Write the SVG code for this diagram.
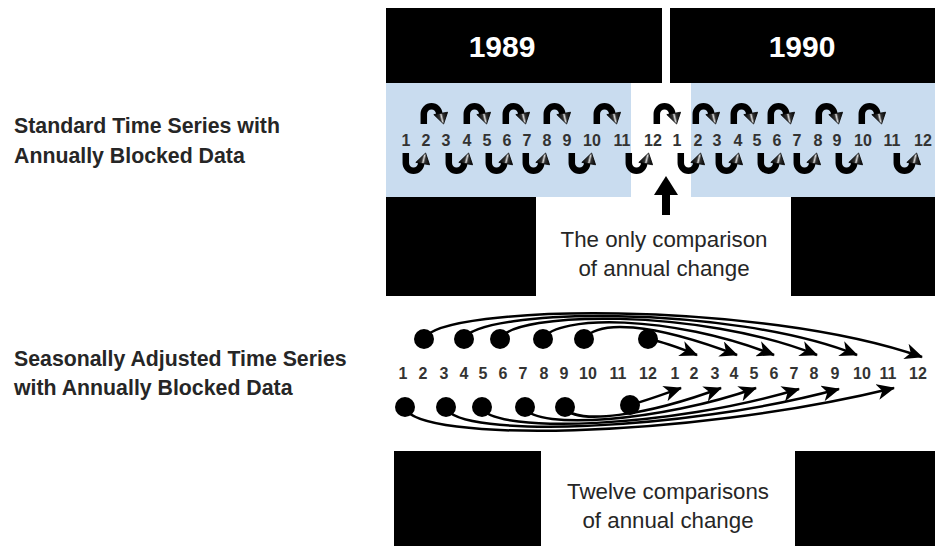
<svg xmlns="http://www.w3.org/2000/svg" xmlns:xlink="http://www.w3.org/1999/xlink" width="935" height="546" viewBox="0 0 935 546">
  <style>
    .lbl { font-family: "Liberation Sans", Arial, sans-serif; font-weight: bold; font-size: 21.3px; fill: #262626; }
    .note { font-family: "Liberation Sans", Arial, sans-serif; font-size: 22.3px; fill: #262626; text-anchor: middle; }
    .year { font-family: "Liberation Sans", Arial, sans-serif; font-weight: bold; font-size: 30px; fill: #ffffff; text-anchor: middle; }
    .num { font-family: "Liberation Sans", Arial, sans-serif; font-weight: bold; font-size: 16px; fill: #333333; text-anchor: middle; }
    .blk { fill: #000000; }
    .band { fill: #c9dcef; }
    .link { fill: none; stroke: #000000; stroke-width: 2.5; marker-end: url(#head); }
    .dot { fill: #000000; }
  </style>
  <defs>
    <marker id="head" markerUnits="userSpaceOnUse" markerWidth="18" markerHeight="16" viewBox="0 0 18 16" refX="17" refY="8" orient="auto">
      <path d="M0,0 L18,8 L0,16 L5,8 z" fill="#000000"/>
    </marker>
    <linearGradient id="shade" x1="0" y1="0.2" x2="1" y2="0">
      <stop offset="0" stop-color="#000000"/>
      <stop offset="0.38" stop-color="#333333"/>
      <stop offset="0.5" stop-color="#d8d8d8"/>
      <stop offset="0.62" stop-color="#333333"/>
      <stop offset="1" stop-color="#000000"/>
    </linearGradient>
    <!-- curved step arrow: up, over and down to the next month -->
    <g id="cv">
      <path d="M3.8,22 L3.8,12 A7.7,7.7 0 0 1 19.2,12 L19.2,13" fill="none" stroke="#000000" stroke-width="6.5"/>
      <polygon points="13.8,12.6 27.6,10.2 23.6,22" fill="url(#shade)" stroke="#000000" stroke-width="0.8" stroke-linejoin="round"/>
    </g>
  </defs>

  <!-- left side titles -->
  <g id="label-standard">
    <text class="lbl" x="14" y="133">Standard Time Series with</text>
    <text class="lbl" x="14" y="163">Annually Blocked Data</text>
  </g>
  <g id="label-seasonal">
    <text class="lbl" x="14" y="366">Seasonally Adjusted Time Series</text>
    <text class="lbl" x="14" y="395">with Annually Blocked Data</text>
  </g>

  <!-- year headers -->
  <g id="year-1989">
    <rect class="blk" x="386" y="8" width="276" height="75"/>
    <text class="year" x="502" y="57">1989</text>
  </g>
  <g id="year-1990">
    <rect class="blk" x="670" y="8" width="265" height="75"/>
    <text class="year" x="802" y="57">1990</text>
  </g>

  <!-- annual blocks of the standard series -->
  <g id="block-standard">
    <rect class="band" x="386" y="83" width="245" height="114"/>
    <rect class="band" x="691" y="83" width="244" height="114"/>
    <rect class="blk" x="386" y="197" width="150" height="99"/>
    <rect class="blk" x="791" y="197" width="144" height="99"/>
  </g>

  <!-- month numbers, standard series -->
  <g id="months-standard">
    <text class="num" x="406" y="146">1</text>
    <text class="num" x="426" y="146">2</text>
    <text class="num" x="446" y="146">3</text>
    <text class="num" x="467" y="146">4</text>
    <text class="num" x="487" y="146">5</text>
    <text class="num" x="507" y="146">6</text>
    <text class="num" x="527" y="146">7</text>
    <text class="num" x="547" y="146">8</text>
    <text class="num" x="567" y="146">9</text>
    <text class="num" x="592" y="146">10</text>
    <text class="num" x="622" y="146">11</text>
    <text class="num" x="653" y="146">12</text>
    <text class="num" x="677" y="146">1</text>
    <text class="num" x="698" y="146">2</text>
    <text class="num" x="717" y="146">3</text>
    <text class="num" x="738" y="146">4</text>
    <text class="num" x="757" y="146">5</text>
    <text class="num" x="777" y="146">6</text>
    <text class="num" x="797" y="146">7</text>
    <text class="num" x="818" y="146">8</text>
    <text class="num" x="837" y="146">9</text>
    <text class="num" x="863" y="146">10</text>
    <text class="num" x="892" y="146">11</text>
    <text class="num" x="923" y="146">12</text>
  </g>

  <!-- month to month steps, standard series -->
  <g id="steps-standard">
    <use xlink:href="#cv" href="#cv" x="420" y="102"/>
    <use xlink:href="#cv" href="#cv" x="463" y="102"/>
    <use xlink:href="#cv" href="#cv" x="502" y="102"/>
    <use xlink:href="#cv" href="#cv" x="543" y="102"/>
    <use xlink:href="#cv" href="#cv" x="593" y="102"/>
    <use xlink:href="#cv" href="#cv" x="653" y="102"/>
    <use xlink:href="#cv" href="#cv" x="692" y="102"/>
    <use xlink:href="#cv" href="#cv" x="730" y="102"/>
    <use xlink:href="#cv" href="#cv" x="767" y="102"/>
    <use xlink:href="#cv" href="#cv" x="815" y="102"/>
    <use xlink:href="#cv" href="#cv" x="858" y="102"/>

    <use xlink:href="#cv" href="#cv" transform="translate(402,175) scale(1,-1)"/>
    <use xlink:href="#cv" href="#cv" transform="translate(445,175) scale(1,-1)"/>
    <use xlink:href="#cv" href="#cv" transform="translate(485,175) scale(1,-1)"/>
    <use xlink:href="#cv" href="#cv" transform="translate(522,175) scale(1,-1)"/>
    <use xlink:href="#cv" href="#cv" transform="translate(568,175) scale(1,-1)"/>
    <use xlink:href="#cv" href="#cv" transform="translate(625,175) scale(1,-1)"/>
    <use xlink:href="#cv" href="#cv" transform="translate(677,175) scale(1,-1)"/>
    <use xlink:href="#cv" href="#cv" transform="translate(715,175) scale(1,-1)"/>
    <use xlink:href="#cv" href="#cv" transform="translate(757,175) scale(1,-1)"/>
    <use xlink:href="#cv" href="#cv" transform="translate(793,175) scale(1,-1)"/>
    <use xlink:href="#cv" href="#cv" transform="translate(835,175) scale(1,-1)"/>
    <use xlink:href="#cv" href="#cv" transform="translate(893,175) scale(1,-1)"/>
  </g>

  <!-- the single year-over-year comparison -->
  <g id="only-comparison">
    <rect class="blk" x="662" y="193" width="8" height="22"/>
    <polygon class="blk" points="654,195 666,176 678,195"/>
    <text class="note" x="664" y="247">The only comparison</text>
    <text class="note" x="664" y="276">of annual change</text>
  </g>

  <!-- month numbers, seasonally adjusted series -->
  <g id="months-seasonal">
    <text class="num" x="403" y="379">1</text>
    <text class="num" x="423" y="379">2</text>
    <text class="num" x="444" y="379">3</text>
    <text class="num" x="464" y="379">4</text>
    <text class="num" x="483" y="379">5</text>
    <text class="num" x="503" y="379">6</text>
    <text class="num" x="523" y="379">7</text>
    <text class="num" x="544" y="379">8</text>
    <text class="num" x="564" y="379">9</text>
    <text class="num" x="588" y="379">10</text>
    <text class="num" x="618" y="379">11</text>
    <text class="num" x="648" y="379">12</text>
    <text class="num" x="675" y="379">1</text>
    <text class="num" x="694" y="379">2</text>
    <text class="num" x="715" y="379">3</text>
    <text class="num" x="734" y="379">4</text>
    <text class="num" x="754" y="379">5</text>
    <text class="num" x="774" y="379">6</text>
    <text class="num" x="794" y="379">7</text>
    <text class="num" x="814" y="379">8</text>
    <text class="num" x="835" y="379">9</text>
    <text class="num" x="862" y="379">10</text>
    <text class="num" x="888" y="379">11</text>
    <text class="num" x="918" y="379">12</text>
  </g>

  <!-- twelve year-over-year links -->
  <g id="connectors">
    <path class="link" d="M424,339 C440,304 760,300 922,357"/>
    <path class="link" d="M464,339 C478,308 730,304 857,355"/>
    <path class="link" d="M500,339 C514,311 700,308 817,355"/>
    <path class="link" d="M543,339 C556,315 670,314 774,355"/>
    <path class="link" d="M584,339 C598,320 650,322 737,355"/>
    <path class="link" d="M648,339 C664,342 680,348 697,355"/>

    <path class="link" d="M405,408 C418,442 680,440 894,388"/>
    <path class="link" d="M446,408 C458,438 680,432 839,389"/>
    <path class="link" d="M482,408 C494,434 670,428 799,389"/>
    <path class="link" d="M525,408 C536,430 660,422 756,388"/>
    <path class="link" d="M565,408 C576,425 646,416 721,388"/>
    <path class="link" d="M630,405 C648,400 664,394 681,388"/>
  </g>
  <g id="origin-dots">
    <circle class="dot" cx="424" cy="339" r="10"/>
    <circle class="dot" cx="464" cy="339" r="10"/>
    <circle class="dot" cx="500" cy="339" r="10"/>
    <circle class="dot" cx="543" cy="339" r="10"/>
    <circle class="dot" cx="584" cy="339" r="10"/>
    <circle class="dot" cx="648" cy="339" r="10"/>
    <circle class="dot" cx="405" cy="407" r="10"/>
    <circle class="dot" cx="446" cy="407" r="10"/>
    <circle class="dot" cx="482" cy="407" r="10"/>
    <circle class="dot" cx="525" cy="407" r="10"/>
    <circle class="dot" cx="565" cy="407" r="10"/>
    <circle class="dot" cx="630" cy="405" r="10"/>
  </g>

  <!-- annual blocks of the seasonally adjusted series -->
  <g id="block-seasonal">
    <rect class="blk" x="394" y="451" width="147" height="95"/>
    <rect class="blk" x="795" y="451" width="140" height="95"/>
    <text class="note" x="668" y="499">Twelve comparisons</text>
    <text class="note" x="668" y="528">of annual change</text>
  </g>
</svg>
